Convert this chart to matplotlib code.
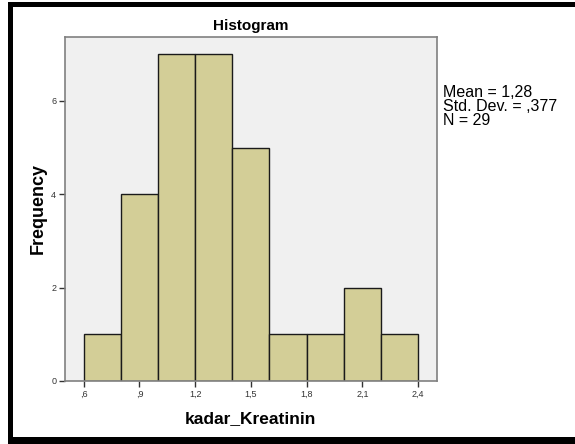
import matplotlib
matplotlib.use("Agg")
from matplotlib import pyplot as plt
from matplotlib.patches import Rectangle
import numpy as np

plt.rcParams['font.family'] = ['Liberation Sans', 'DejaVu Sans']

# histogram of kadar_Kreatinin (bins of 0,2 from ,6 to 2,4)
bin_edges = [0.6, 0.8, 1.0, 1.2, 1.4, 1.6, 1.8, 2.0, 2.2, 2.4]
counts = [1, 4, 7, 7, 5, 1, 1, 2, 1]
xticks = [0.6, 0.9, 1.2, 1.5, 1.8, 2.1, 2.4]
xtick_labels = [',6', ',9', '1,2', '1,5', '1,8', '2,1', '2,4']
yticks = [0, 2, 4, 6]
stats_text = "Mean = 1,28\nStd. Dev. = ,377\nN = 29"

W, H = 575, 444
fig = plt.figure(figsize=(W / 100, H / 100), dpi=100)
ax = fig.add_axes([0.1122, 0.1419, 0.6473, 0.7748])
ax.set_facecolor('#f0f0f0')

ax.hist(bin_edges[:-1], bins=bin_edges, weights=counts,
        color='#d3ce97', edgecolor='#1a1a1a', linewidth=1.0)

ax.set_xlim(0.497, 2.5)
ax.set_ylim(0, 7.37)
ax.set_xticks(xticks)
ax.set_xticklabels(xtick_labels)
ax.set_yticks(yticks)
ax.tick_params(axis='both', labelsize=6.5, length=4, width=1,
               color='#333333', labelcolor='#333333', pad=2)
for s in ax.spines.values():
    s.set_color('#808080')
    s.set_linewidth(1.2)

ax.set_title("Histogram", fontsize=11, fontweight='bold', pad=5)
ax.set_xlabel("kadar_Kreatinin", fontsize=12.5, fontweight='bold', labelpad=9)
ax.set_ylabel("Frequency", fontsize=13, fontweight='bold', labelpad=3)

fig.text(0.770, 0.808, stats_text, fontsize=11.5, va='top', ha='left',
         linespacing=0.92)

# black frame round the output, as in the SPSS viewer (pixel boxes)
for x0, y0, x1, y1 in [(8, 2, W, 7), (8, 2, 13, H), (8, 437, W, H)]:
    fig.patches.append(Rectangle((x0 / W, 1 - y1 / H), (x1 - x0) / W,
                                 (y1 - y0) / H, transform=fig.transFigure,
                                 facecolor='black', edgecolor='none'))

fig.savefig("out.png", dpi=100)
